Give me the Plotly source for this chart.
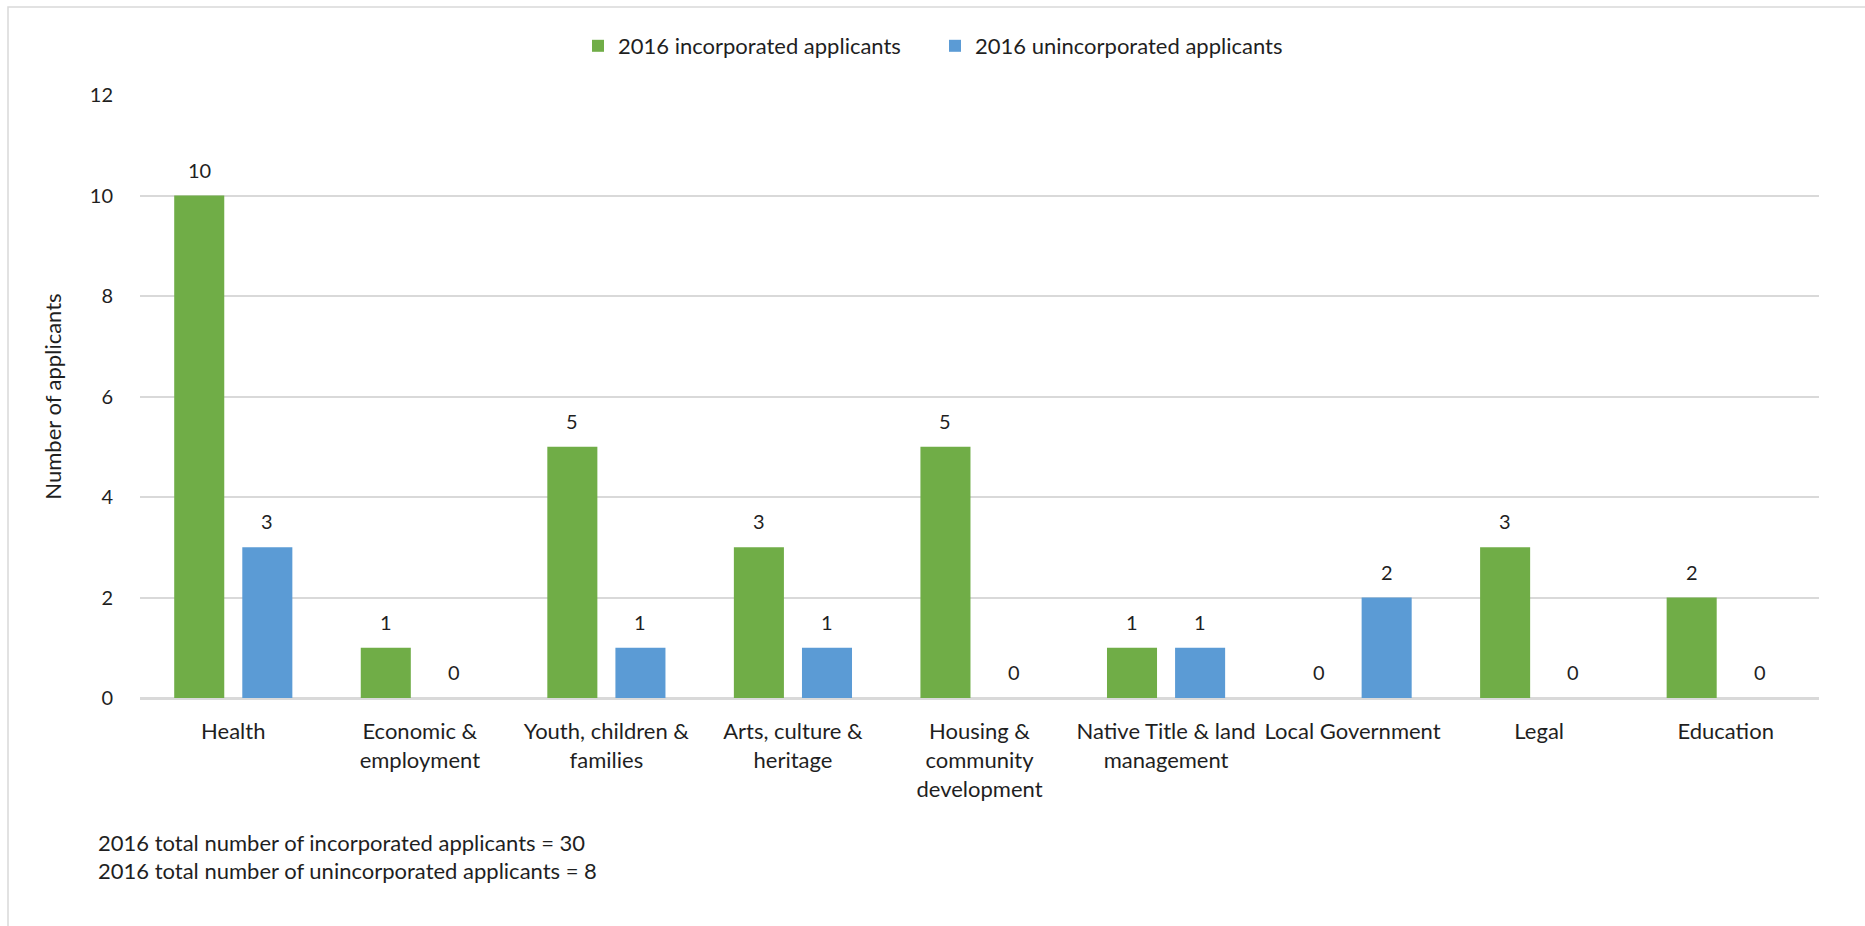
import plotly.graph_objects as go

categories = [
    "Health",
    "Economic &<br>employment",
    "Youth, children &<br>families",
    "Arts, culture &<br>heritage",
    "Housing &<br>community<br>development",
    "Native Title & land<br>management",
    "Local Government",
    "Legal",
    "Education",
]
incorporated = [10, 1, 5, 3, 5, 1, 0, 3, 2]
unincorporated = [3, 0, 1, 1, 0, 1, 2, 0, 0]
series_names = ["2016 incorporated applicants", "2016 unincorporated applicants"]
series_colors = ["#70AD47", "#5B9BD5"]
y_ticks = [0, 2, 4, 6, 8, 10, 12]
footnotes = [
    "2016 total number of incorporated applicants = 30",
    "2016 total number of unincorporated applicants = 8",
]

FONT = "Lato, 'Open Sans', sans-serif"
TEXT = "#1F1F1F"
GRID = "#D9D9D9"
NUM_SIZE = 20
LABEL_SIZE = 22
W, H = 1865, 926
ML, MR, MT, MB = 140, 46, 95, 228
PW, PH = W - ML - MR, H - MT - MB
BARGAP, BARGROUPGAP = 0.27, 0.265

series = [incorporated, unincorporated]

fig = go.Figure()
for name, vals, color in zip(series_names, series, series_colors):
    fig.add_trace(go.Bar(
        name=name, x=categories, y=vals,
        marker=dict(color=color, line=dict(width=0)),
        hoverinfo="x+y+name",
    ))


def px(x):
    return (x - ML) / PW


def py(y):
    return (H - MB - y) / PH


# value labels above each bar, offset sideways to the centre of its bar slot
slot_px = PW / len(categories) * (1 - BARGAP) / len(series)
annotations = []
for k, vals in enumerate(series):
    shift = (k - (len(series) - 1) / 2) * slot_px
    for cat, v in zip(categories, vals):
        annotations.append(dict(
            x=cat, y=v, xref="x", yref="y", text=str(v), showarrow=False,
            xanchor="center", yanchor="bottom", xshift=shift, yshift=12,
            font=dict(family=FONT, size=NUM_SIZE, color=TEXT),
        ))

for i, line in enumerate(footnotes):
    annotations.append(dict(
        text=line, xref="paper", yref="paper",
        x=px(96), y=py(842 + 28.5 * i), xanchor="left", yanchor="middle",
        showarrow=False, font=dict(family=FONT, size=LABEL_SIZE, color=TEXT),
    ))

fig.update_layout(
    width=W, height=H,
    margin=dict(l=ML, r=MR, t=MT, b=MB),
    paper_bgcolor="white", plot_bgcolor="white",
    barmode="group", bargap=BARGAP, bargroupgap=BARGROUPGAP,
    font=dict(family=FONT, size=LABEL_SIZE, color=TEXT),
    legend=dict(
        orientation="h", x=px(578), xanchor="left", y=py(46), yanchor="middle",
        font=dict(family=FONT, size=LABEL_SIZE, color=TEXT), traceorder="normal",
        itemwidth=30, entrywidth=312, entrywidthmode="pixels",
    ),
    xaxis=dict(
        showgrid=False, showline=True, linecolor=GRID, linewidth=2,
        tickangle=0, ticks="outside", ticklen=13, tickcolor="rgba(0,0,0,0)",
        tickfont=dict(family=FONT, size=LABEL_SIZE, color=TEXT), automargin=False,
    ),
    yaxis=dict(
        range=[0, 12], tickvals=y_ticks, showgrid=True, gridcolor=GRID, gridwidth=1.5,
        zeroline=True, zerolinecolor=GRID, zerolinewidth=2,
        ticks="outside", ticklen=22, tickcolor="rgba(0,0,0,0)",
        tickfont=dict(family=FONT, size=NUM_SIZE, color=TEXT),
        title=dict(text="Number of applicants", standoff=22,
                   font=dict(family=FONT, size=LABEL_SIZE, color=TEXT)),
        automargin=False,
    ),
    annotations=annotations,
    shapes=[dict(
        type="rect", xref="paper", yref="paper",
        x0=px(8), x1=px(W + 20), y0=py(H + 20), y1=py(7),
        line=dict(color="#D9D9D9", width=1.5), fillcolor="rgba(0,0,0,0)", layer="below",
    )],
)

fig.write_html("out.html")
